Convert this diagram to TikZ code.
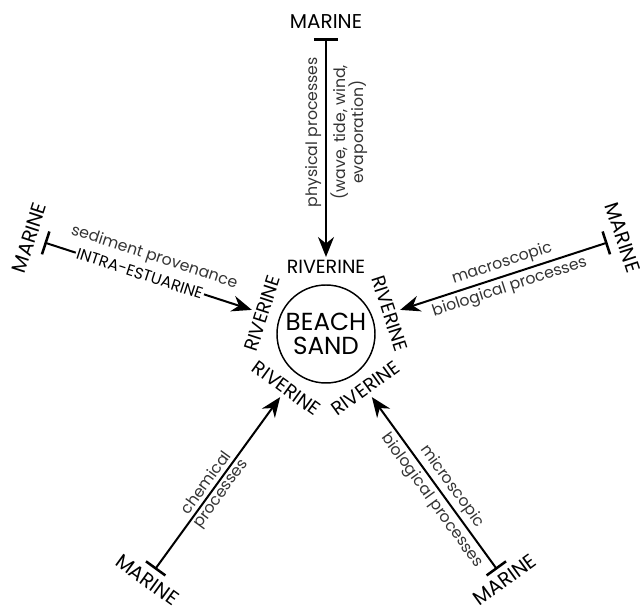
\documentclass[tikz,border=0pt]{standalone}
\usepackage{fontspec}
\setmainfont{Poppins}
\usetikzlibrary{arrows.meta,calc}
\tikzset{spoke/.style={line width=1.5pt, {Bar[width=18pt, line width=1.9pt]}-{Stealth[length=15pt,width=12pt]}},
  endlbl/.style={font=\fontsize{15}{17}\selectfont, inner sep=0pt},
  rivlbl/.style={font=\fontsize{14.3}{16}\selectfont, inner sep=0pt},
  proc/.style={font=\fontsize{11.8}{14}\selectfont, align=center, text=black!80, inner sep=2.5pt}}

\begin{document}
\begin{tikzpicture}[x=0.75pt, y=0.75pt]
  \useasboundingbox (-326,-279) rectangle (314,334);
  \node[circle, draw, line width=1.1pt, minimum size=73.5pt, inner sep=0pt, align=center,
    font=\fontsize{18.5}{17.5}\selectfont] (bs) {BEACH\\SAND};
  % riverine ring
  \node[rivlbl] (r1) at (90:67) {RIVERINE};
  \node[rivlbl, rotate=72] (r2) at (162:67) {RIVERINE};
  \node[rivlbl, rotate=-36] (r3) at (234:67) {RIVERINE};
  \node[rivlbl, rotate=36] (r4) at (306:67) {RIVERINE};
  \node[rivlbl, rotate=-72] (r5) at (18:67) {RIVERINE};
  % marine ends
  \node[endlbl] (m1) at (90:312) {MARINE};
  \node[endlbl, rotate=72] (m2) at (162:312) {MARINE};
  \node[endlbl, rotate=-36] (m3) at (234:304) {MARINE};
  \node[endlbl, rotate=36] (m4) at (306:304) {MARINE};
  \node[endlbl, rotate=-72] (m5) at (18:312) {MARINE};
  % spokes
  \coordinate (t1) at (90:296);  \coordinate (h1) at (90:77);
  \coordinate (t2) at (162:296); \coordinate (h2) at (162:78);
  \coordinate (t3) at (234:291); \coordinate (h3) at (234:78);
  \coordinate (t4) at (306:291); \coordinate (h4) at (306:78);
  \coordinate (t5) at (18:296);  \coordinate (h5) at (18:78);
  \draw[spoke] (t1) -- node[proc, pos=.43, rotate=90, anchor=south]{physical processes}
    node[proc, pos=.43, rotate=90, anchor=north]{(wave, tide, wind,\\evaporation)} (h1);
  \draw[spoke] (t2) -- node[proc, pos=.5, rotate=-18, anchor=south, inner ysep=8pt]{sediment provenance}
    node[pos=.46, rotate=-18, fill=white, inner xsep=1pt, inner ysep=2pt,
      font=\fontsize{11.8}{13}\selectfont]{INTRA-ESTUARINE} (h2);
  \draw[spoke] (t3) -- node[proc, pos=.47, rotate=54, anchor=south]{chemical}
    node[proc, pos=.47, rotate=54, anchor=north]{processes} (h3);
  \draw[spoke] (t4) -- node[proc, pos=.44, rotate=-54, anchor=south]{microscopic}
    node[proc, pos=.44, rotate=-54, anchor=north]{biological processes} (h4);
  \draw[spoke] (t5) -- node[proc, pos=.49, rotate=18, anchor=south]{macroscopic}
    node[proc, pos=.49, rotate=18, anchor=north]{biological processes} (h5);
\end{tikzpicture}
\end{document}
